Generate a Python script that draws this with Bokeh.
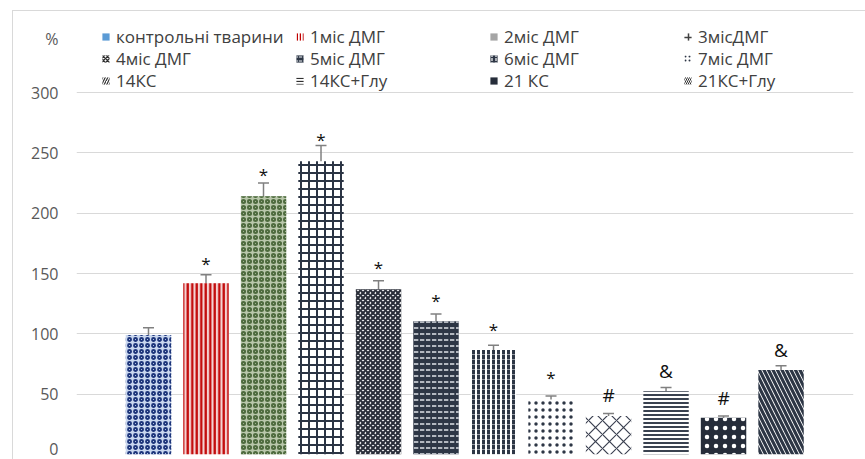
from bokeh.plotting import figure
from bokeh.models import (ColumnDataSource, Whisker, TeeHead, Legend, LegendItem,
                          Range1d, FixedTicker)
from bokeh.core.properties import value
from bokeh.embed import file_html
from bokeh.resources import INLINE

# ---- data ---------------------------------------------------------------
groups = ["контрольні тварини", "1міс ДМГ", "2міс ДМГ", "3місДМГ",
          "4міс ДМГ", "5міс ДМГ", "6міс ДМГ", "7міс ДМГ",
          "14КС", "14КС+Глу", "21 КС", "21КС+Глу"]
means = [99, 142, 214, 243, 137, 110.5, 86.5, 45.5, 32, 52.5, 30.5, 70]
errors = [6, 7, 11, 13, 7, 6, 4, 3, 2, 3, 1.5, 3.5]
marks = ["", "*", "*", "*", "*", "*", "*", "*", "#", "&", "#", "&"]
mark_heights = [0, 161, 234.5, 263.5, 157.5, 130.4, 106.1, 66.3, 48.9, 69.0, 47.0, 86.2]
y_ticks = [0, 50, 100, 150, 200, 250, 300]
unit_label = "%"
unit_label_height = 344.7   # where the unit sits on the value scale

# ---- bar fills (background, pattern, pattern colour, scale, weight) ----
bar_styles = [
    ("#c9d7ef", "o", "#1c347a", 6, 1.8),
    ("#f3d3d3", "|", "#c00000", 4.5, 2.2),
    ("#b9c7ab", "o", "#4e6b3e", 6, 2.0),
    ("#ffffff", "+", "#2b3444", 8, 2.0),
    ("#ffffff", "x", "#2b2f3a", 5, 2.2),
    ("#2d3645", '"', "#d5d8de", 6, 1.6),
    ("#ffffff", ":", "#2d3645", 5, 3.0),
    ("#ffffff", ".", "#2d3645", 7, 3.2),
    ("#ffffff", "x", "#3a4050", 14, 1.2),
    ("#ffffff", "-", "#3a4250", 4, 2.0),
    ("#262d3a", ".", "#ffffff", 9, 2.0),
    ("#ffffff", "\\", "#2d3645", 9, 3.2),
]

# ---- legend swatches ---------------------------------------------------
legend_styles = [
    ("#5b9bd5", " ", "#5b9bd5", 4, 1),
    ("#ffffff", "|", "#c00000", 3, 1.5),
    ("#a5a5a5", " ", "#a5a5a5", 4, 1),
    ("#ffffff", "+", "#404040", 9, 1.5),
    ("#ffffff", "x", "#303030", 4, 1.5),
    ("#2d3645", '"', "#d5d8de", 4, 1.2),
    ("#2d3645", ":", "#ffffff", 4, 1.2),
    ("#ffffff", ".", "#2d3645", 4, 2.0),
    ("#ffffff", "/", "#303030", 5, 1.2),
    ("#ffffff", "-", "#303030", 3, 1.3),
    ("#262d3a", " ", "#262d3a", 4, 1),
    ("#ffffff", "\\", "#303030", 4, 1.0),
]

FONT = "Open Sans"
W, H = 865, 459
px_per_unit = 362 / 300  # vertical scale of the value axis
frame_h = H - 11 - 5

x = list(range(len(groups)))

p = figure(width=W, height=H, output_backend="svg", toolbar_location=None,
           x_range=Range1d(-1.252, 12.26),
           y_range=Range1d(0, frame_h / px_per_unit),
           x_axis_location=None, y_axis_location="left",
           min_border_left=76, min_border_right=12,
           min_border_top=11, min_border_bottom=5)
p.outline_line_color = None
p.background_fill_color = "#ffffff"
# transparent outside the plot area so the chart-area border below shows through
p.border_fill_alpha = 0
p.styles = {
    "background": ("linear-gradient(#d9d9d9, #d9d9d9) 12px 10px / 100% 1px no-repeat, "
                   "linear-gradient(#d9d9d9, #d9d9d9) 12px 10px / 1px 100% no-repeat, #ffffff"),
}

# value axis: labels only (plus the unit on top), grid lines at the ticks
p.yaxis.ticker = FixedTicker(ticks=y_ticks + [unit_label_height])
p.yaxis.major_label_overrides = {unit_label_height: unit_label}
p.yaxis.axis_line_color = None
p.yaxis.major_tick_line_color = None
p.yaxis.minor_tick_line_color = None
p.yaxis.major_tick_out = 0
p.yaxis.major_tick_in = 0
p.yaxis.major_label_standoff = 18
p.yaxis.major_label_text_font = FONT
p.yaxis.major_label_text_font_size = "16px"
p.yaxis.major_label_text_color = "#595959"
p.ygrid.ticker = FixedTicker(ticks=y_ticks)
p.ygrid.grid_line_color = "#d9d9d9"
p.ygrid.grid_line_width = 1.2
p.xgrid.grid_line_color = None

# bars
src = ColumnDataSource(dict(
    x=x, top=means, name=groups,
    fill=[s[0] for s in bar_styles],
    pat=[s[1] for s in bar_styles],
    pcol=[s[2] for s in bar_styles],
    pscale=[s[3] for s in bar_styles],
    pweight=[s[4] for s in bar_styles],
))
p.vbar(x="x", top="top", bottom=0, width=0.79, source=src,
       fill_color="fill", hatch_pattern="pat", hatch_color="pcol",
       hatch_scale="pscale", hatch_weight="pweight", line_color=None)

# error bars (upper cap only)
err_src = ColumnDataSource(dict(
    x=x,
    upper=[m + e for m, e in zip(means, errors)],
    lower=[m - e for m, e in zip(means, errors)],
))
p.add_layout(Whisker(base="x", upper="upper", lower="lower", source=err_src,
                     dimension="height", line_color="#808080", line_width=1.5,
                     upper_head=TeeHead(size=11, line_color="#808080", line_width=1.5),
                     lower_head=None))

# significance marks
star_idx = [i for i, m in enumerate(marks) if m == "*"]
sym_idx = [i for i, m in enumerate(marks) if m in ("#", "&")]
star_src = ColumnDataSource(dict(x=[x[i] for i in star_idx],
                                 y=[mark_heights[i] for i in star_idx],
                                 t=[marks[i] for i in star_idx]))
sym_src = ColumnDataSource(dict(x=[x[i] for i in sym_idx],
                                y=[mark_heights[i] for i in sym_idx],
                                t=[marks[i] for i in sym_idx]))
p.text(x="x", y="y", text="t", source=star_src, text_align="center",
       text_baseline="middle", y_offset=3, text_font=value(FONT),
       text_font_size="17px", text_color="#111111")
p.text(x="x", y="y", text="t", source=sym_src, text_align="center",
       text_baseline="middle", y_offset=0, text_font=value(FONT),
       text_font_size="19px", text_color="#111111")

# legend swatches: hidden one-bar renderers that only lend their look to the legend
swatches = []
for k, (fill, pat, pcol, sc, wt) in enumerate(legend_styles):
    r = p.vbar(x=[x[k]], top=[means[k]], width=0.5, fill_color=fill,
               hatch_pattern=pat, hatch_color=pcol, hatch_scale=sc,
               hatch_weight=wt, line_color=None)
    r.visible = False
    swatches.append(r)

row_bottoms = [406, 384, 362]
for row in range(3):
    items = [LegendItem(label=groups[k], renderers=[swatches[k]])
             for k in range(row * 4, row * 4 + 4)]
    leg = Legend(items=items, orientation="horizontal", location=(25, row_bottoms[row]),
                 glyph_width=9, glyph_height=9, label_standoff=6, label_width=173,
                 spacing=6, padding=0, margin=0, border_line_color=None,
                 background_fill_alpha=0, inactive_fill_alpha=0,
                 label_text_font=FONT, label_text_font_size="17px",
                 label_text_color="#404040", label_height=18,
                 click_policy="none")
    p.add_layout(leg)

open("out.html", "w").write(file_html(p, INLINE))
